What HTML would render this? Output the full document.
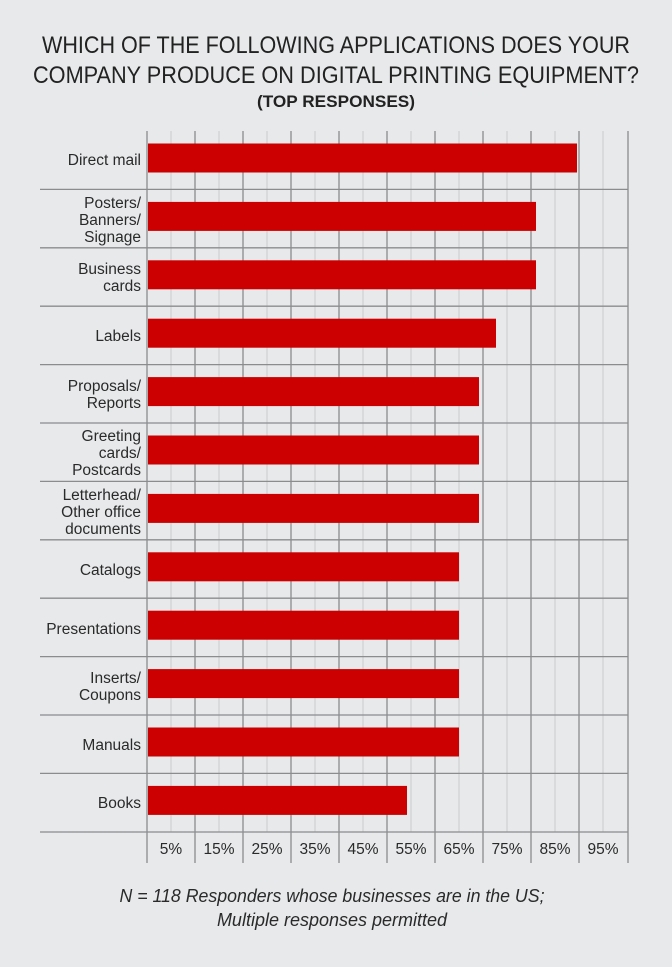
<!DOCTYPE html>
<html><head><meta charset="utf-8"><style>
html,body{margin:0;padding:0;background:#e7e9eb;}
svg{display:block;}
</style></head><body>
<svg width="672" height="967" viewBox="0 0 672 967" xmlns="http://www.w3.org/2000/svg" font-family="Liberation Sans, sans-serif">
<rect width="672" height="967" fill="#e7e9eb"/>
<g fill="#222" text-anchor="middle">
<text x="336" y="53" font-size="24" textLength="588" lengthAdjust="spacingAndGlyphs">WHICH OF THE FOLLOWING APPLICATIONS DOES YOUR</text>
<text x="336" y="83" font-size="24" textLength="606" lengthAdjust="spacingAndGlyphs">COMPANY PRODUCE ON DIGITAL PRINTING EQUIPMENT?</text>
<text x="336" y="107" font-size="17" font-weight="bold" textLength="158" lengthAdjust="spacingAndGlyphs">(TOP RESPONSES)</text>
</g>
<g stroke="#c9cbcd" stroke-width="1">
<line x1="171" y1="131" x2="171" y2="832"/><line x1="219" y1="131" x2="219" y2="832"/><line x1="267" y1="131" x2="267" y2="832"/><line x1="315" y1="131" x2="315" y2="832"/><line x1="363" y1="131" x2="363" y2="832"/><line x1="411" y1="131" x2="411" y2="832"/><line x1="459" y1="131" x2="459" y2="832"/><line x1="507" y1="131" x2="507" y2="832"/><line x1="555" y1="131" x2="555" y2="832"/><line x1="603" y1="131" x2="603" y2="832"/>
</g>
<g stroke="#8a8c8e" stroke-width="1.3">
<line x1="147" y1="131" x2="147" y2="863"/><line x1="195" y1="131" x2="195" y2="863"/><line x1="243" y1="131" x2="243" y2="863"/><line x1="291" y1="131" x2="291" y2="863"/><line x1="339" y1="131" x2="339" y2="863"/><line x1="387" y1="131" x2="387" y2="863"/><line x1="435" y1="131" x2="435" y2="863"/><line x1="483" y1="131" x2="483" y2="863"/><line x1="531" y1="131" x2="531" y2="863"/><line x1="579" y1="131" x2="579" y2="863"/><line x1="628" y1="131" x2="628" y2="863"/>
<line x1="40" y1="189.4" x2="628" y2="189.4"/><line x1="40" y1="247.8" x2="628" y2="247.8"/><line x1="40" y1="306.2" x2="628" y2="306.2"/><line x1="40" y1="364.6" x2="628" y2="364.6"/><line x1="40" y1="423" x2="628" y2="423"/><line x1="40" y1="481.4" x2="628" y2="481.4"/><line x1="40" y1="539.8" x2="628" y2="539.8"/><line x1="40" y1="598.2" x2="628" y2="598.2"/><line x1="40" y1="656.6" x2="628" y2="656.6"/><line x1="40" y1="715" x2="628" y2="715"/><line x1="40" y1="773.4" x2="628" y2="773.4"/><line x1="40" y1="832" x2="628" y2="832"/>
</g>
<g fill="#cc0000">
<rect x="148" y="143.5" width="429" height="29"/>
<rect x="148" y="201.9" width="388" height="29"/>
<rect x="148" y="260.3" width="388" height="29"/>
<rect x="148" y="318.7" width="348" height="29"/>
<rect x="148" y="377.1" width="331" height="29"/>
<rect x="148" y="435.5" width="331" height="29"/>
<rect x="148" y="493.9" width="331" height="29"/>
<rect x="148" y="552.3" width="311" height="29"/>
<rect x="148" y="610.7" width="311" height="29"/>
<rect x="148" y="669.1" width="311" height="29"/>
<rect x="148" y="727.5" width="311" height="29"/>
<rect x="148" y="785.9" width="259" height="29"/>
</g>
<g fill="#2a2a2a" font-size="15.5" text-anchor="end">
<text x="141" y="165">Direct mail</text>
<text x="141" y="208">Posters/</text><text x="141" y="225">Banners/</text><text x="141" y="242">Signage</text>
<text x="141" y="274">Business</text><text x="141" y="291">cards</text>
<text x="141" y="341">Labels</text>
<text x="141" y="391">Proposals/</text><text x="141" y="408">Reports</text>
<text x="141" y="441">Greeting</text><text x="141" y="458">cards/</text><text x="141" y="475">Postcards</text>
<text x="141" y="500">Letterhead/</text><text x="141" y="517">Other office</text><text x="141" y="534">documents</text>
<text x="141" y="575">Catalogs</text>
<text x="141" y="634">Presentations</text>
<text x="141" y="683">Inserts/</text><text x="141" y="700">Coupons</text>
<text x="141" y="750">Manuals</text>
<text x="141" y="808">Books</text>
</g>
<g fill="#2a2a2a" font-size="15.5" text-anchor="middle">
<text x="171" y="854">5%</text><text x="219" y="854">15%</text><text x="267" y="854">25%</text><text x="315" y="854">35%</text><text x="363" y="854">45%</text><text x="411" y="854">55%</text><text x="459" y="854">65%</text><text x="507" y="854">75%</text><text x="555" y="854">85%</text><text x="603" y="854">95%</text>
</g>
<g fill="#2a2a2a" font-size="18" font-style="italic" text-anchor="middle">
<text x="332" y="902" textLength="425" lengthAdjust="spacingAndGlyphs">N = 118 Responders whose businesses are in the US;</text>
<text x="332" y="926">Multiple responses permitted</text>
</g>
</svg>
</body></html>
